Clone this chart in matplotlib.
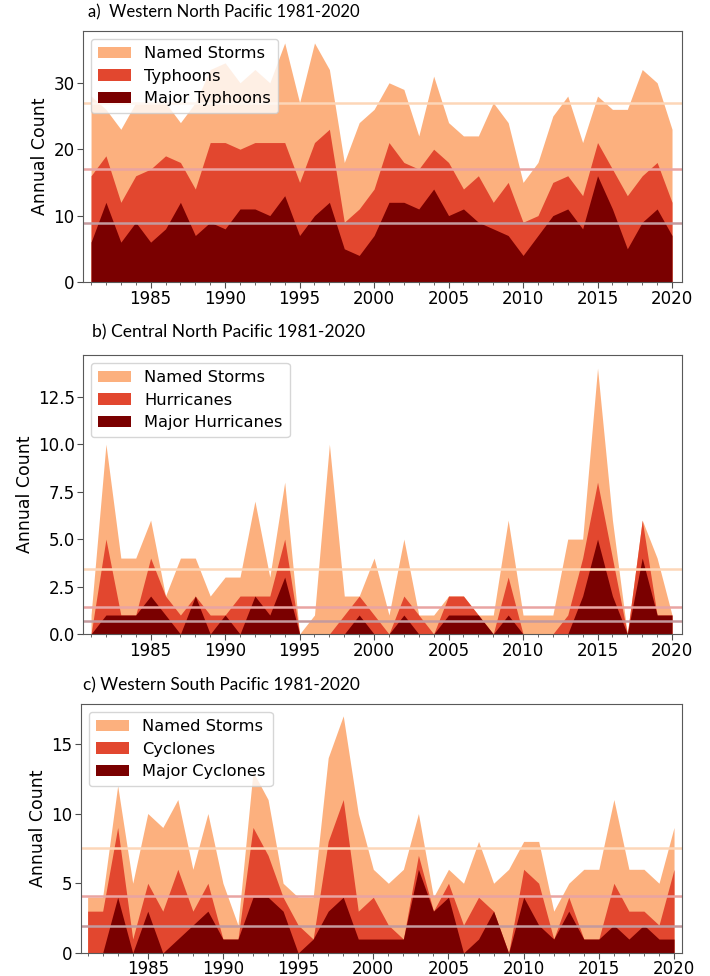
import numpy as np
import matplotlib.pyplot as plt
from matplotlib.ticker import MultipleLocator

plt.rcParams['font.family'] = 'DejaVu Sans'

years = np.arange(1981, 2021)

# a) Western North Pacific
wnp_named = [28, 26, 23, 27, 27, 27, 24, 27, 32, 33, 30, 32, 30, 36, 27, 36, 32, 18, 24, 26,
             30, 29, 22, 31, 24, 22, 22, 27, 24, 15, 18, 25, 28, 21, 28, 26, 26, 32, 30, 23]
wnp_ty = [16, 19, 12, 16, 17, 19, 18, 14, 21, 21, 20, 21, 21, 21, 15, 21, 23, 9, 11, 14,
          21, 18, 17, 20, 18, 14, 16, 12, 15, 9, 10, 15, 16, 13, 21, 17, 13, 16, 18, 12]
wnp_major = [6, 12, 6, 9, 6, 8, 12, 7, 9, 8, 11, 11, 10, 13, 7, 10, 12, 5, 4, 7,
             12, 12, 11, 14, 10, 11, 9, 8, 7, 4, 7, 10, 11, 8, 16, 11, 5, 9, 11, 7]
wnp_means = [27, 17, 8.9]

# b) Central North Pacific
cnp_named = [1, 10, 4, 4, 6, 2, 4, 4, 2, 3, 3, 7, 3, 8, 0, 1, 10, 2, 2, 4,
             1, 5, 1, 1, 2, 2, 1, 1, 6, 1, 1, 1, 5, 5, 14, 6, 0, 6, 4, 1]
cnp_hu = [0, 5, 1, 1, 4, 2, 1, 2, 1, 1, 2, 2, 2, 5, 0, 0, 0, 1, 2, 1,
          0, 2, 1, 0, 2, 2, 1, 0, 3, 0, 0, 0, 1, 4, 8, 4, 0, 6, 1, 1]
cnp_major = [0, 1, 1, 1, 2, 1, 0, 2, 0, 1, 0, 2, 1, 3, 0, 0, 0, 0, 1, 0,
             0, 1, 0, 0, 1, 1, 1, 0, 1, 0, 0, 0, 0, 2, 5, 2, 0, 4, 1, 1]
cnp_means = [3.4, 1.42, 0.67]

# c) Western South Pacific
wsp_named = [4, 4, 12, 5, 10, 9, 11, 6, 10, 5, 2, 13, 11, 5, 4, 4, 14, 17, 10, 6,
             5, 6, 10, 4, 6, 5, 8, 5, 6, 8, 8, 3, 5, 6, 6, 11, 6, 6, 5, 9]
wsp_cy = [3, 3, 9, 1, 5, 3, 6, 3, 5, 1, 1, 9, 7, 4, 2, 1, 8, 11, 3, 4,
          2, 1, 7, 3, 5, 2, 4, 3, 0, 6, 5, 1, 4, 1, 1, 5, 3, 3, 2, 6]
wsp_major = [0, 0, 4, 0, 3, 0, 1, 2, 3, 1, 1, 4, 4, 3, 0, 1, 3, 4, 1, 1,
             1, 1, 6, 3, 4, 0, 1, 3, 0, 4, 2, 1, 3, 1, 1, 2, 1, 2, 1, 1]
wsp_means = [7.5, 4.12, 1.93]

fill_colors = ['#fcb07e', '#e2472f', '#7a0000']
line_colors = ['#fdd6b8', '#e9a4a2', '#c49a9e']

W, H = 710, 976
fig = plt.figure(figsize=(W / 100, H / 100), dpi=100)


def px_axes(l, t, r, b):
    return fig.add_axes([l / W, 1 - b / H, (r - l) / W, (b - t) / H])


panels = [
    (px_axes(83, 31, 682, 282), (wnp_named, wnp_ty, wnp_major), wnp_means,
     ['Named Storms', 'Typhoons', 'Major Typhoons'], (1980.46, 2020.67), 10, 2),
    (px_axes(83, 355, 682, 634), (cnp_named, cnp_hu, cnp_major), cnp_means,
     ['Named Storms', 'Hurricanes', 'Major Hurricanes'], (1980.46, 2020.67), 2.5, 2),
    (px_axes(81, 704, 682, 953), (wsp_named, wsp_cy, wsp_major), wsp_means,
     ['Named Storms', 'Cyclones', 'Major Cyclones'], (1980.56, 2020.53), 5, 1),
]

for ax, series, means, labels, xlim, ystep, xpad in panels:
    for vals, col, lab in zip(series, fill_colors, labels):
        ax.fill_between(years, 0, vals, color=col, lw=0, label=lab)
    for m, col in zip(means, line_colors):
        ax.axhline(m, color=col, lw=1.8)
    ax.set_xlim(*xlim)
    ax.set_ylim(0, max(series[0]) * 1.05)
    ax.xaxis.set_major_locator(MultipleLocator(5))
    ax.xaxis.set_minor_locator(MultipleLocator(1))
    ax.yaxis.set_major_locator(MultipleLocator(ystep))
    ax.tick_params(labelsize=12, length=4, color='0.3', pad=2)
    ax.tick_params(axis='x', pad=xpad)
    ax.tick_params(which='minor', length=2, color='0.3')
    for s in ax.spines.values():
        s.set_color('0.35')
    ax.set_ylabel('Annual Count', fontsize=12.5, labelpad=3)
    ax.legend(loc='upper left', fontsize=11.7, handlelength=2.0, labelspacing=0.45,
              borderpad=0.45)

tfont = dict(family='Lato', fontsize=12, va='center', ha='left')
fig.text(88 / W, 1 - 12 / H, 'a)  Western North Pacific 1981-2020', **tfont)
fig.text(92 / W, 1 - 332 / H, 'b) Central North Pacific 1981-2020', **dict(tfont, fontsize=12.6))
fig.text(83 / W, 1 - 685 / H, 'c) Western South Pacific 1981-2020', **dict(tfont, fontsize=12.4))

fig.savefig('out.png', dpi=100)
